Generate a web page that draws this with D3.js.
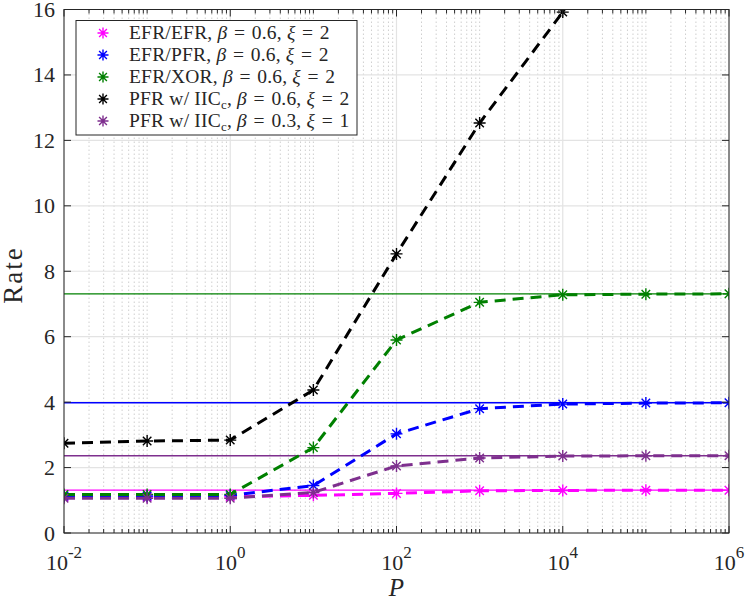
<!DOCTYPE html>
<html>
<head>
<meta charset="utf-8">
<script src="https://cdn.jsdelivr.net/npm/d3@7"></script>
<style>
  body { margin: 0; background: #fff; }
  text { font-family: "Liberation Serif", "DejaVu Serif", serif; fill: #262626; }
</style>
</head>
<body>
<script>
// x values (P) and the five series
var pValues   = [1e-2, 1e-1, 1e0, 1e1, 1e2, 1e3, 1e4, 1e5, 1e6];
var efrEfr    = [1.10, 1.10, 1.11, 1.15, 1.21, 1.29, 1.30, 1.31, 1.31];
var efrPfr    = [1.13, 1.13, 1.15, 1.45, 3.03, 3.80, 3.94, 3.97, 3.98];
var efrXor    = [1.18, 1.18, 1.18, 2.61, 5.90, 7.05, 7.28, 7.30, 7.31];
var pfrIic    = [2.74, 2.81, 2.84, 4.37, 8.53, 12.53, 15.92];
var pfrIicLow = [1.06, 1.06, 1.06, 1.24, 2.05, 2.29, 2.35, 2.36, 2.36];

// horizontal reference levels (solid thin lines)
var limitValues = [7.31, 3.98, 2.36, 1.31];
var limitColors = ["#008000", "#0000ff", "#7e2f8e", "#ff00ff"];

var seriesNames  = ["EFR/EFR", "EFR/PFR", "EFR/XOR", "PFR w/ IIC", "PFR w/ IIC"];
var seriesBeta   = ["0.6", "0.6", "0.6", "0.6", "0.3"];
var seriesXi     = ["2", "2", "2", "2", "1"];
var seriesColors = ["#ff00ff", "#0000ff", "#008000", "#000000", "#7e2f8e"];
var seriesData   = [efrEfr, efrPfr, efrXor, pfrIic, pfrIicLow];

var yTicks = [0, 2, 4, 6, 8, 10, 12, 14, 16];
var xMajor = [-2, 0, 2, 4, 6];   // exponents

var W = 747, H = 600;
var mLeft = 64, mRight = 729, mTop = 9.5, mBottom = 533;
var axisColor = "#262626";

var svg = d3.select("body").append("svg").attr("width", W).attr("height", H);

var x = d3.scaleLog().domain([1e-2, 1e6]).range([mLeft, mRight]);
var y = d3.scaleLinear().domain([0, 16]).range([mBottom, mTop]);

// minor log positions 2..9 x 10^k and odd decades
var minorX = [];
for (var k = -2; k < 6; k++) {
  for (var m = 1; m < 10; m++) {
    if (m == 1 && xMajor.indexOf(k) >= 0) continue;
    minorX.push(m * Math.pow(10, k));
  }
}
var majorX = xMajor.map(function(e){ return Math.pow(10, e); });

var grid = svg.append("g");
grid.selectAll("line.minor").data(minorX).enter().append("line")
  .attr("x1", function(d){ return x(d); }).attr("x2", function(d){ return x(d); })
  .attr("y1", mTop).attr("y2", mBottom)
  .attr("stroke", "#cfcfcf").attr("stroke-width", 1)
  .attr("stroke-dasharray", "1.5,2.5");
grid.selectAll("line.majx").data(majorX).enter().append("line")
  .attr("x1", function(d){ return x(d); }).attr("x2", function(d){ return x(d); })
  .attr("y1", mTop).attr("y2", mBottom)
  .attr("stroke", "#e3e3e3").attr("stroke-width", 1.2);
grid.selectAll("line.majy").data(yTicks).enter().append("line")
  .attr("x1", mLeft).attr("x2", mRight)
  .attr("y1", function(d){ return y(d); }).attr("y2", function(d){ return y(d); })
  .attr("stroke", "#e3e3e3").attr("stroke-width", 1.2);

svg.append("clipPath").attr("id", "plotclip").append("rect")
  .attr("x", mLeft).attr("y", mTop).attr("width", mRight - mLeft).attr("height", mBottom - mTop);

var plot = svg.append("g").attr("clip-path", "url(#plotclip)");

// reference levels
plot.selectAll("line.limit").data(limitValues).enter().append("line")
  .attr("x1", mLeft).attr("x2", mRight)
  .attr("y1", function(d){ return y(d); }).attr("y2", function(d){ return y(d); })
  .attr("stroke", function(d, i){ return limitColors[i]; })
  .attr("stroke-width", 1.4);

var line = d3.line()
  .x(function(d, i){ return x(pValues[i]); })
  .y(function(d){ return y(d); });

// asterisk marker
function star(cx, cy, r) {
  var a = r * 0.7071;
  return "M" + (cx - r) + "," + cy + "L" + (cx + r) + "," + cy +
         "M" + cx + "," + (cy - r) + "L" + cx + "," + (cy + r) +
         "M" + (cx - a) + "," + (cy - a) + "L" + (cx + a) + "," + (cy + a) +
         "M" + (cx - a) + "," + (cy + a) + "L" + (cx + a) + "," + (cy - a);
}

for (var s = 0; s < seriesData.length; s++) {
  var g = plot.append("g");
  g.append("path")
    .attr("d", line(seriesData[s]))
    .attr("fill", "none")
    .attr("stroke", seriesColors[s])
    .attr("stroke-width", 3)
    .attr("stroke-dasharray", "11,7");
  g.selectAll("path.pt").data(seriesData[s]).enter().append("path")
    .attr("d", function(d, i){ return star(x(pValues[i]), y(d), 6); })
    .attr("stroke", seriesColors[s])
    .attr("stroke-width", 1.4)
    .attr("fill", "none");
}

// axes box and ticks
var ax = svg.append("g").attr("stroke", axisColor).attr("stroke-width", 1);
ax.append("rect").attr("x", mLeft).attr("y", mTop).attr("width", mRight - mLeft).attr("height", mBottom - mTop)
  .attr("fill", "none");
ax.selectAll("line.xmin").data(minorX).enter().append("line")
  .attr("x1", function(d){ return x(d); }).attr("x2", function(d){ return x(d); })
  .attr("y1", mBottom).attr("y2", mBottom - 4);
ax.selectAll("line.xmint").data(minorX).enter().append("line")
  .attr("x1", function(d){ return x(d); }).attr("x2", function(d){ return x(d); })
  .attr("y1", mTop).attr("y2", mTop + 4);
ax.selectAll("line.xmaj").data(majorX).enter().append("line")
  .attr("x1", function(d){ return x(d); }).attr("x2", function(d){ return x(d); })
  .attr("y1", mBottom).attr("y2", mBottom - 7);
ax.selectAll("line.xmajt").data(majorX).enter().append("line")
  .attr("x1", function(d){ return x(d); }).attr("x2", function(d){ return x(d); })
  .attr("y1", mTop).attr("y2", mTop + 7);
ax.selectAll("line.yl").data(yTicks).enter().append("line")
  .attr("x1", mLeft).attr("x2", mLeft + 7)
  .attr("y1", function(d){ return y(d); }).attr("y2", function(d){ return y(d); });
ax.selectAll("line.yr").data(yTicks).enter().append("line")
  .attr("x1", mRight).attr("x2", mRight - 7)
  .attr("y1", function(d){ return y(d); }).attr("y2", function(d){ return y(d); });

// tick labels
svg.selectAll("text.ylab").data(yTicks).enter().append("text")
  .attr("x", mLeft - 9).attr("y", function(d){ return y(d) + 7.5; })
  .attr("text-anchor", "end").attr("font-size", 22)
  .text(function(d){ return d; });

var xl = svg.selectAll("text.xlab").data(xMajor).enter().append("text")
  .attr("x", function(d){ return x(Math.pow(10, d)); }).attr("y", 570)
  .attr("text-anchor", "middle").attr("font-size", 22);
xl.append("tspan").text("10");
xl.append("tspan").attr("dy", -12).attr("font-size", 17).text(function(d){ return d; });

svg.append("text").attr("x", (mLeft + mRight) / 2).attr("y", 596)
  .attr("text-anchor", "middle").attr("font-size", 25).attr("font-style", "italic").text("P");

svg.append("text").attr("transform", "translate(22,275) rotate(-90)")
  .attr("text-anchor", "middle").attr("font-size", 27).attr("letter-spacing", 2).text("Rate");

// legend
var leg = svg.append("g");
leg.append("rect").attr("x", 76).attr("y", 20.5).attr("width", 281).attr("height", 114.5)
  .attr("fill", "#fff").attr("stroke", axisColor).attr("stroke-width", 1);
for (var j = 0; j < seriesNames.length; j++) {
  var ly = 33 + j * 22;
  leg.append("path").attr("d", star(103, ly, 5.5))
    .attr("stroke", seriesColors[j]).attr("stroke-width", 1.4).attr("fill", "none");
  var t = leg.append("text").attr("x", 129).attr("y", ly + 6).attr("font-size", 19.5)
    .attr("letter-spacing", 0.2)
    .attr("xml:space", "preserve").style("white-space", "pre");
  t.append("tspan").text(seriesNames[j]);
  if (j >= 3) {
    t.append("tspan").attr("font-size", 13).attr("dy", 3.5).text("c");
    t.append("tspan").attr("dy", -3.5).text(", ");
  } else {
    t.append("tspan").text(", ");
  }
  t.append("tspan").attr("font-style", "italic").text("β");
  t.append("tspan").attr("dx", 1.5).text(" = ");
  t.append("tspan").attr("dx", 1.5).text(seriesBeta[j] + ", ");
  t.append("tspan").attr("font-style", "italic").text("ξ");
  t.append("tspan").attr("dx", 1.5).text(" = ");
  t.append("tspan").attr("dx", 1.5).text(seriesXi[j]);
}
</script>
</body>
</html>
